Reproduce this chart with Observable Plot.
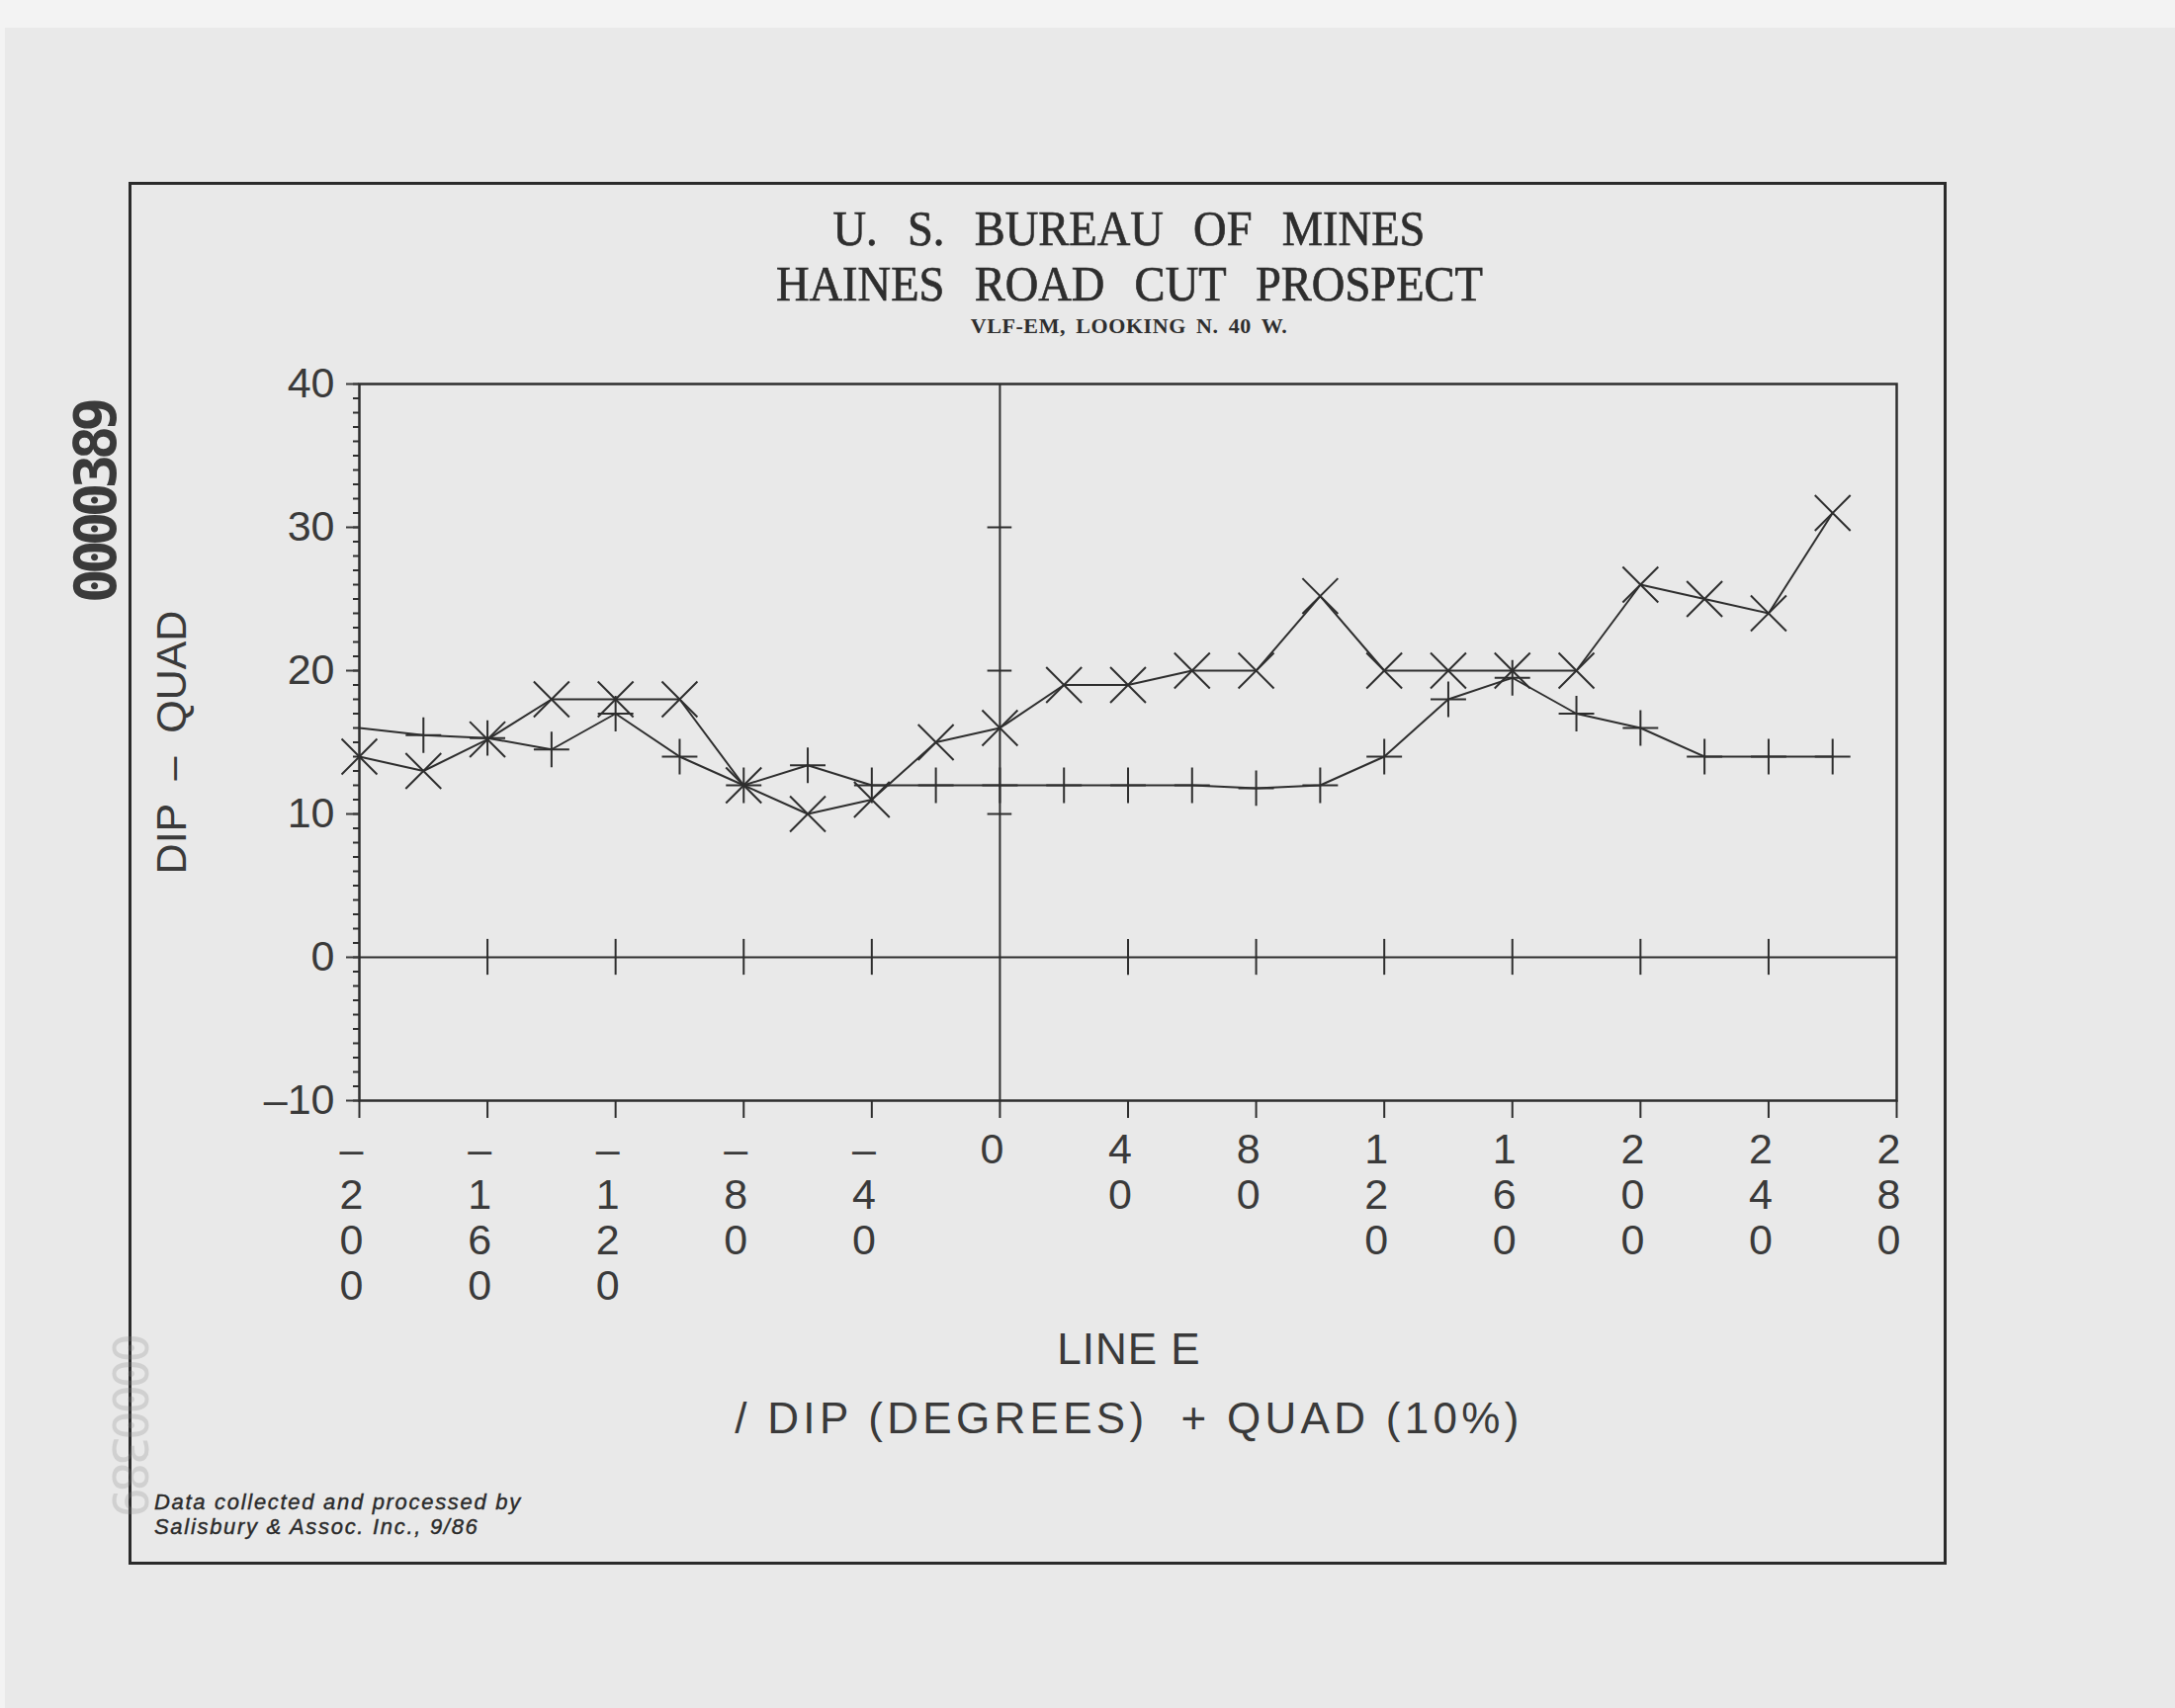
<!DOCTYPE html>
<html>
<head>
<meta charset="utf-8">
<script src="https://cdn.jsdelivr.net/npm/d3@7"></script>
<script src="https://cdn.jsdelivr.net/npm/@observablehq/plot@0.6"></script>
<style>
  html, body { margin: 0; padding: 0; background: #f3f3f3; }
  #page { position: relative; width: 2200px; height: 1728px; overflow: hidden; background: #f3f3f3; }
  #paper { position: absolute; left: 5px; top: 28px; right: 0; bottom: 0; background: #e9e9e9; }
  #frame { position: absolute; left: 130px; top: 184px; width: 1833px; height: 1393px; border: 3px solid #2b2b2b; }
  #chart { position: absolute; left: 0; top: 0; }
  .ctr { position: absolute; left: 0; width: 2284px; text-align: center; white-space: nowrap; color: #2e2e2e; }
  .ctr span { display: inline-block; }
  .serif { font-family: "Liberation Serif", "DejaVu Serif", serif; }
  .sans { font-family: "Liberation Sans", Arial, sans-serif; }
  .abs { position: absolute; white-space: nowrap; line-height: 1; }
  .ttl { font-size: 50px; line-height: 1; word-spacing: 20px; }
  .ttl span { transform: scaleX(0.93); -webkit-text-stroke: 0.7px #2e2e2e; }
</style>
</head>
<body>
<div id="page">
  <div id="paper"></div>
  <div id="frame"></div>
  <div id="chart"></div>
  <div class="ctr serif ttl" style="top:206px;"><span>U. S. BUREAU OF MINES</span></div>
  <div class="ctr serif ttl" style="top:262px;"><span>HAINES ROAD CUT PROSPECT</span></div>
  <div class="ctr serif" style="top:319px;font-size:22px;line-height:1;font-weight:bold;word-spacing:4px;letter-spacing:0.6px;"><span>VLF-EM, LOOKING N. 40 W.</span></div>
  <div class="ctr sans" style="top:1343px;font-size:44px;line-height:1;letter-spacing:1px;color:#3a3a3a;"><span>LINE E</span></div>
  <div class="ctr sans" style="top:1413px;font-size:44px;line-height:1;letter-spacing:4.3px;color:#3a3a3a;"><span>/ DIP (DEGREES)&nbsp; + QUAD (10%)</span></div>
  <div class="abs sans" style="left:156px;top:1509px;font-size:22px;font-style:italic;letter-spacing:1.7px;color:#2a2a2a;-webkit-text-stroke:0.4px #2a2a2a;">Data collected and processed by</div>
  <div class="abs sans" style="left:156px;top:1534px;font-size:22px;font-style:italic;letter-spacing:1.7px;color:#2a2a2a;-webkit-text-stroke:0.4px #2a2a2a;">Salisbury &amp; Assoc. Inc., 9/86</div>
  <div class="abs" style="left:97px;top:509px;transform:translate(-50%,-50%) rotate(-90deg);font-family:'DejaVu Sans Mono',monospace;font-weight:bold;font-size:58px;letter-spacing:-6px;color:#3a3a3a;">0000389</div>
  <div class="abs" style="left:131px;top:1440px;transform:translate(-50%,-50%) rotate(90deg);font-family:'DejaVu Sans Mono',monospace;font-size:50px;letter-spacing:-4px;color:#888;opacity:0.25;">0000389</div>
</div>
<script>
// Survey stations along LINE E
const stations = [-200,-180,-160,-140,-120,-100,-80,-60,-40,-20,0,20,40,60,80,100,120,140,160,180,200,220,240,260];
// DIP (degrees)
const dip  = [14,13,15.2,18,18,18,12,10,11,15,16,19,19,20,20,25.2,20,20,20,20,26,25,24,31];
// QUAD (10%)
const quad = [16,15.5,15.3,14.5,17,14,12,13.4,12,12,12,12,12,12,11.8,12,14,18,19.5,17,16,14,14,14];
// axis ticks
const xTicks = [-200,-160,-120,-80,-40,0,40,80,120,160,200,240,280];
const yTicks = [-10,0,10,20,30,40];
const yMinor = d3.range(-10, 41, 1);
const zeroLineTicks = [-160,-120,-80,-40,40,80,120,160,200,240];
const centerLineTicks = [10,20,30];

const dipData = stations.map((s, i) => ({station: s, value: dip[i]}));
const quadData = stations.map((s, i) => ({station: s, value: quad[i]}));

const ink = "#2e2e2e";
const fmtX = d => (d < 0 ? "–" + Math.abs(d) : String(d)).split("").join("\n");

const chart = Plot.plot({
  width: 2200,
  height: 1728,
  marginLeft: 363,
  marginRight: 282,
  marginTop: 388,
  marginBottom: 615,
  style: {background: "transparent", fontFamily: "'Liberation Sans', Arial, sans-serif", color: ink},
  x: {domain: [-200, 280]},
  y: {domain: [-10, 40]},
  marks: [
    Plot.frame({stroke: ink, strokeWidth: 2.5}),
    Plot.ruleY([0], {stroke: ink, strokeWidth: 2}),
    Plot.ruleX([0], {stroke: ink, strokeWidth: 2}),
    Plot.ruleX(zeroLineTicks, {x: d => d, y1: -1.25, y2: 1.25, stroke: ink, strokeWidth: 2}),
    Plot.ruleY(centerLineTicks, {y: d => d, x1: -3.8, x2: 3.8, stroke: ink, strokeWidth: 2}),
    Plot.axisY({ticks: yMinor, tickSize: 6, tickFormat: () => "", label: null, color: ink, strokeWidth: 2}),
    Plot.axisY({ticks: yTicks, tickSize: 13, tickPadding: 12, fontSize: 43, label: null, color: "#3a3a3a", strokeWidth: 2,
      tickFormat: d => d < 0 ? "–" + Math.abs(d) : String(d)}),
    Plot.axisX({ticks: xTicks, tickSize: 18, tickFormat: () => "", label: null, color: ink, strokeWidth: 2}),
    Plot.text(xTicks, {x: d => d, frameAnchor: "bottom", text: fmtX, lineAnchor: "top", lineHeight: 1.07,
      dy: 31, dx: -8, fontSize: 43, fill: "#3a3a3a"}),
    Plot.text(["DIP  –  QUAD"], {frameAnchor: "left", textAnchor: "middle", dx: -189, rotate: -90, fontSize: 43,
      fill: "#3a3a3a", text: d => d}),
    Plot.line(dipData, {x: "station", y: "value", stroke: ink, strokeWidth: 2}),
    Plot.line(quadData, {x: "station", y: "value", stroke: ink, strokeWidth: 2}),
    Plot.dot(dipData, {x: "station", y: "value", symbol: "times", r: 16.4, stroke: ink, strokeWidth: 2}),
    Plot.dot(quadData.filter((d, i) => i > 0), {x: "station", y: "value", symbol: "plus", r: 11.6, stroke: ink, strokeWidth: 2})
  ]
});
document.getElementById("chart").appendChild(chart);
</script>
</body>
</html>
